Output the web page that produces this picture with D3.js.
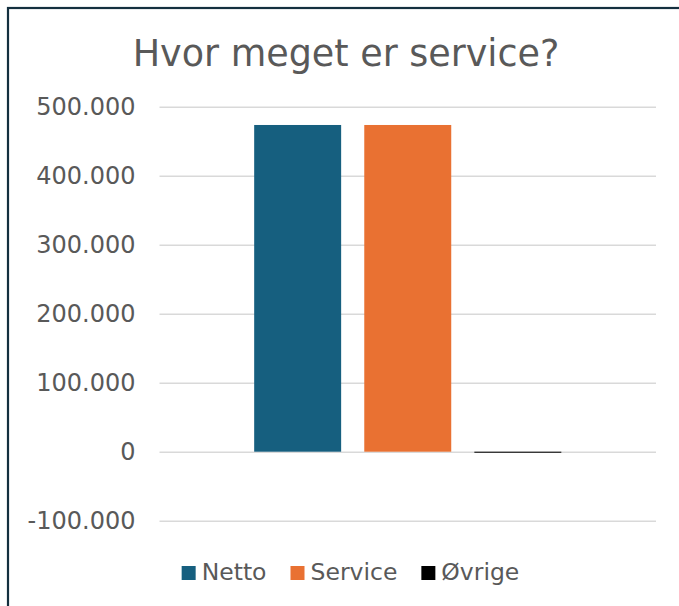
<!DOCTYPE html>
<html>
<head>
<meta charset="utf-8">
<script src="https://cdn.jsdelivr.net/npm/d3@7"></script>
<style>
  html, body { margin: 0; padding: 0; background: #fff; }
  svg { display: block; font-family: "DejaVu Sans", Verdana, sans-serif; }
</style>
</head>
<body>
<svg id="chart" width="679" height="606"></svg>
<script>
// data
var series = ['Netto', 'Service', 'Øvrige'];
var values = [473500, 473500, -1500];
var colors = ['#165f7f', '#e97132', '#000000'];
var ticks = [-100000, 0, 100000, 200000, 300000, 400000, 500000];

var svg = d3.select('#chart');
var textColor = '#595959';

// chart frame (runs off the right/bottom edge like the reference)
svg.append('rect')
  .attr('x', 8).attr('y', 8)
  .attr('width', 760).attr('height', 700)
  .attr('fill', '#fff')
  .attr('stroke', '#14303f')
  .attr('stroke-width', 2.2);

svg.append('text')
  .attr('x', 346).attr('y', 66)
  .attr('text-anchor', 'middle')
  .attr('font-size', 36.5)
  .attr('fill', textColor)
  .text('Hvor meget er service?');

var y = d3.scaleLinear().domain([-100000, 500000]).range([520.7, 106.7]);
var x = d3.scaleBand().domain(series).range([159.5, 656])
  .paddingInner(0.21).paddingOuter(0.86);

// danish style: dot as thousands separator, plain hyphen for minus
var fmt = function(v) {
  return (v < 0 ? '-' : '') + d3.format(',')(Math.abs(v)).replace(/,/g, '.');
};

var yAxis = svg.append('g')
  .attr('transform', 'translate(159.5,0)')
  .call(d3.axisLeft(y).tickValues(ticks).tickFormat(fmt)
    .tickSize(-(656 - 159.5)).tickPadding(24));
yAxis.select('.domain').remove();
yAxis.selectAll('.tick line').attr('stroke', '#d9d9d9').attr('stroke-width', 1.6);
yAxis.selectAll('.tick text')
  .attr('font-size', 24)
  .attr('font-family', '"DejaVu Sans", Verdana, sans-serif')
  .attr('fill', textColor);

svg.append('g').selectAll('rect')
  .data(series)
  .enter().append('rect')
  .attr('x', function(d) { return x(d); })
  .attr('width', x.bandwidth())
  .attr('y', function(d, i) { return y(Math.max(0, values[i])); })
  .attr('height', function(d, i) { return Math.max(1, Math.abs(y(values[i]) - y(0))); })
  .attr('fill', function(d, i) { return colors[i]; });

// legend
var legend = svg.append('g');
var cursor = 0;
series.forEach(function(s, i) {
  var g = legend.append('g').attr('transform', 'translate(' + cursor + ',0)');
  g.append('rect').attr('x', 0).attr('y', 566).attr('width', 14).attr('height', 14)
    .attr('fill', colors[i]);
  var t = g.append('text').attr('x', 20).attr('y', 580)
    .attr('font-size', 23.5).attr('fill', textColor).text(s);
  cursor += 20 + t.node().getComputedTextLength() + 24;
});
var legendWidth = cursor - 24;
legend.attr('transform', 'translate(' + (350.5 - legendWidth / 2) + ',0)');
</script>
</body>
</html>
